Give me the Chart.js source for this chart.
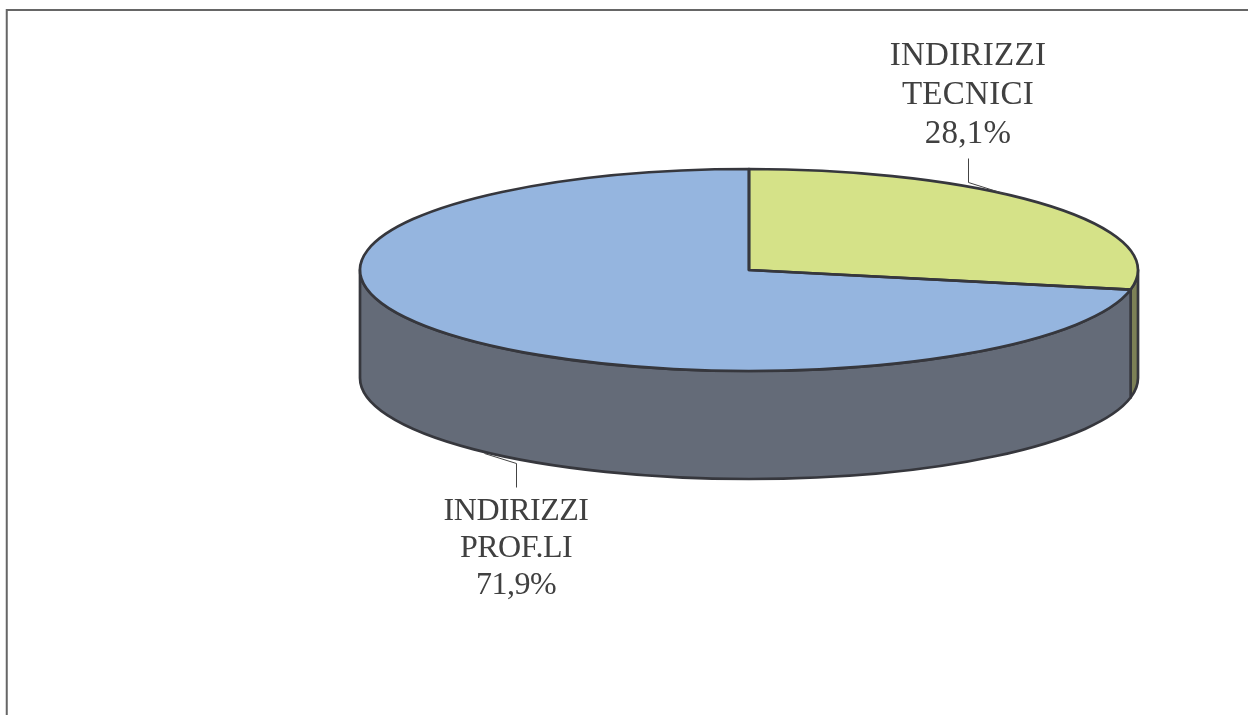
<!DOCTYPE html>
<html>
<head>
<meta charset="utf-8">
<style>
html,body{margin:0;padding:0;background:#fff;overflow:hidden}
#wrap{position:relative;width:1248px;height:715px}
canvas{position:absolute;left:0;top:0;display:block}
</style>
<script src="https://cdn.jsdelivr.net/npm/chart.js@4/dist/chart.umd.min.js"></script>
</head>
<body>
<div id="wrap"><canvas id="c" width="1248" height="715"></canvas></div>
<script>
const categories = ["INDIRIZZI\nTECNICI", "INDIRIZZI\nPROF.LI"];
const shares = [28.1, 71.9];
const topColors = ["#d5e288", "#95b5df"];
const wallColors = ["#7c8056", "#646b78"];

const CX = 749, CY = 270, RX = 389, RY = 101, DEPTH = 108;
const EDGE = "#36373d";
const labelBoxes = [
  {x: 968, y: 65, step: 39, size: 33, spacing: 0.3, leader: [[968,158],[968,182],[1006,194]]},
  {x: 516, y: 520, step: 37, size: 32, spacing: -0.5, leader: [[516,487],[516,463],[484,453]]}
];

const pie3d = {
  id: "pie3d",
  beforeDatasetsDraw(chart) {
    const ctx = chart.ctx;
    const arcs = chart.getDatasetMeta(0).data;
    ctx.save();
    ctx.lineJoin = "round";
    ctx.lineWidth = 2.7;
    ctx.strokeStyle = EDGE;
    // Side wall: only the part of each slice facing the viewer
    arcs.forEach((arc, i) => {
      const s = Math.max(arc.startAngle, 0);
      const e = Math.min(arc.endAngle, Math.PI);
      if (e <= s) return;
      ctx.beginPath();
      ctx.ellipse(CX, CY, RX, RY, 0, s, e);
      ctx.ellipse(CX, CY + DEPTH, RX, RY, 0, e, s, true);
      ctx.closePath();
      ctx.fillStyle = wallColors[i];
      ctx.fill();
      ctx.stroke();
    });
    ctx.restore();
    // Flatten the library's own slices onto the ellipse
    const a = arcs[0];
    ctx.save();
    ctx.translate(CX, CY);
    ctx.scale(RX / a.outerRadius, RY / a.outerRadius);
    ctx.translate(-a.x, -a.y);
  },
  afterDatasetsDraw(chart) {
    const ctx = chart.ctx;
    ctx.restore();
    const arcs = chart.getDatasetMeta(0).data;
    ctx.save();
    ctx.lineJoin = "round";
    ctx.lineWidth = 2.7;
    ctx.strokeStyle = EDGE;
    arcs.forEach(arc => {
      ctx.beginPath();
      ctx.moveTo(CX, CY);
      ctx.ellipse(CX, CY, RX, RY, 0, arc.startAngle, arc.endAngle);
      ctx.closePath();
      ctx.stroke();
    });
    ctx.restore();

    // Frame
    ctx.save();
    ctx.strokeStyle = "#666666";
    ctx.lineWidth = 2;
    ctx.beginPath();
    ctx.moveTo(6.75, 715);
    ctx.lineTo(6.75, 10);
    ctx.lineTo(1248, 10);
    ctx.stroke();
    ctx.restore();

    // Labels and leader lines
    ctx.save();
    ctx.fillStyle = "#404040";
    ctx.textAlign = "center";
    ctx.textBaseline = "alphabetic";
    categories.forEach((name, i) => {
      const b = labelBoxes[i];
      ctx.font = b.size + 'px "Liberation Serif"';
      ctx.letterSpacing = b.spacing + "px";
      const lines = name.split("\n").concat(shares[i].toFixed(1).replace(".", ",") + "%");
      lines.forEach((t, k) => ctx.fillText(t, b.x, b.y + k * b.step));
      ctx.strokeStyle = "#444444";
      ctx.lineWidth = 1;
      ctx.beginPath();
      b.leader.forEach((p, k) => k ? ctx.lineTo(p[0] + .5, p[1] + .5) : ctx.moveTo(p[0] + .5, p[1] + .5));
      ctx.stroke();
    });
    ctx.restore();
  }
};

new Chart(document.getElementById("c"), {
  type: "pie",
  data: {
    labels: categories,
    datasets: [{
      data: shares,
      backgroundColor: topColors,
      borderWidth: 0,
      clip: false
    }]
  },
  options: {
    responsive: false,
    animation: false,
    events: [],
    layout: {padding: {left: 360, right: 110, top: 0, bottom: 0}},
    plugins: {legend: {display: false}, tooltip: {enabled: false}, title: {display: false}}
  },
  plugins: [pie3d]
});
</script>
</body>
</html>
